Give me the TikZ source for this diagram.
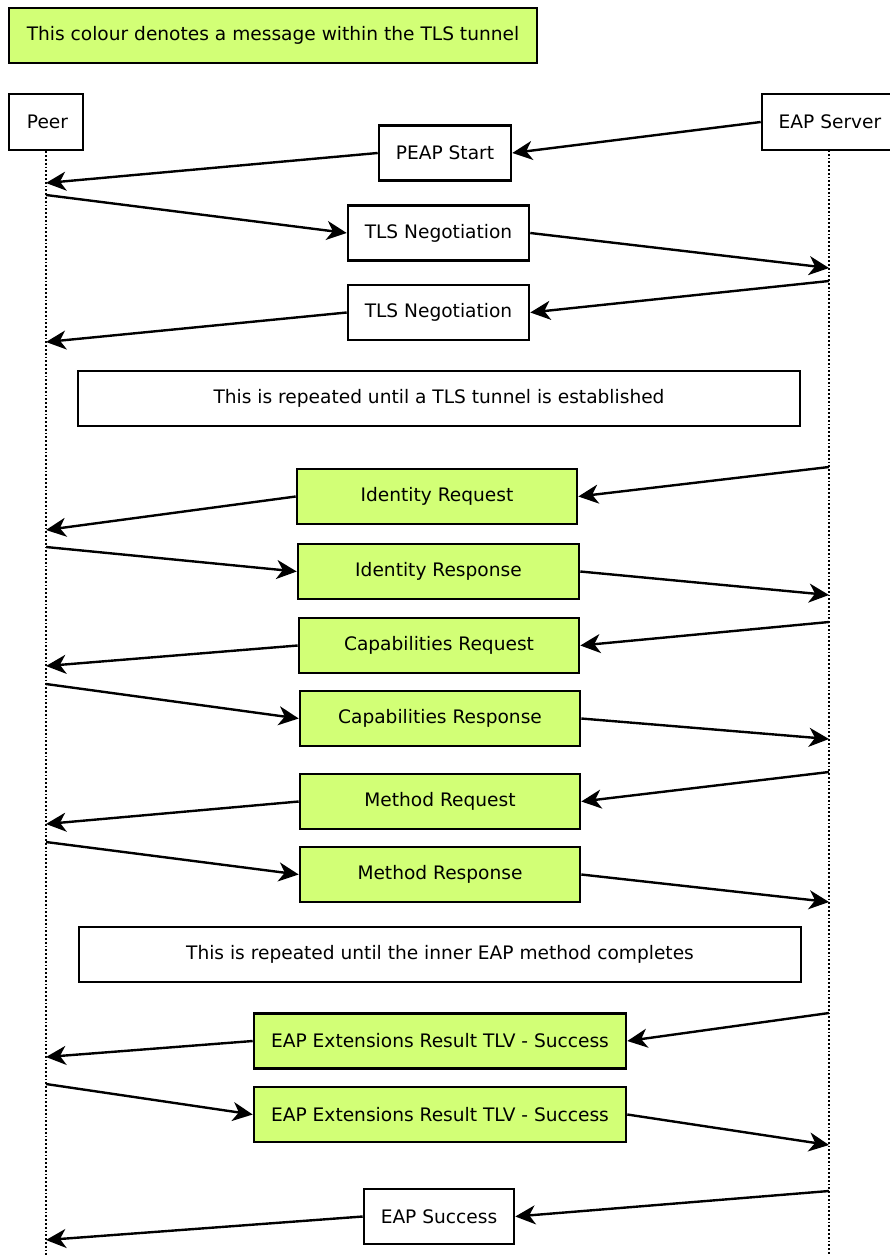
\documentclass[tikz,border=0pt]{standalone}
\usepackage{fontspec}
\setmainfont{DejaVu Sans}
\usetikzlibrary{arrows.meta}
\definecolor{tunnel}{RGB}{210,255,118}
\tikzset{
  msg/.style={draw, line width=2.6pt, rectangle, inner sep=0pt, minimum height=55pt, font=\fontsize{18.6}{21}\selectfont},
  inner/.style={msg, fill=tunnel},
  actor/.style={msg, minimum height=56pt},
  lifeline/.style={line width=1.8pt, dotted},
  flow/.style={line width=2.4pt, -{Stealth[length=20pt,width=19pt,inset=6pt]}}
}
\begin{document}
\begin{tikzpicture}[x=1pt,y=-1pt]
\useasboundingbox (0,0) rectangle (889,1255);

% legend
\node[inner, minimum width=528pt] (legend) at (273,35.5) {This colour denotes a message within the TLS tunnel};

% actors and lifelines
\node[actor, minimum width=74pt] (peer) at (46,122) {\hspace{3pt}Peer};
\node[actor, minimum width=136pt] (srv) at (830,122) {EAP Server};
\coordinate (peerend) at (46,1255);
\coordinate (srvtop) at (829,150);
\coordinate (srvend) at (829,1255);
\draw[lifeline] (peer.south) -- (peerend);
\draw[lifeline] (srvtop) -- (srvend);

% messages
\node[msg, minimum width=132pt] (peap) at (445,153) {PEAP Start};
\node[msg, minimum width=181pt] (tls1) at (438.5,233) {TLS Negotiation};
\node[msg, minimum width=181pt] (tls2) at (438.5,312.5) {TLS Negotiation};
\node[msg, minimum width=722pt] (rep1) at (439,398.5) {This is repeated until a TLS tunnel is established};
\node[inner, minimum width=280pt] (idreq) at (437,496.5) {Identity Request};
\node[inner, minimum width=281pt] (idresp) at (438.5,571.5) {Identity Response};
\node[inner, minimum width=280pt] (capreq) at (439,645.5) {Capabilities Request};
\node[inner, minimum width=280pt] (capresp) at (440,718.5) {Capabilities Response};
\node[inner, minimum width=280pt] (mreq) at (440,801.5) {Method Request};
\node[inner, minimum width=280pt] (mresp) at (440,874.5) {Method Response};
\node[msg, minimum width=722pt] (rep2) at (440,954.5) {This is repeated until the inner EAP method completes};
\node[inner, minimum width=372pt] (ext1) at (440,1041) {EAP Extensions Result TLV - Success};
\node[inner, minimum width=372pt] (ext2) at (440,1114.5) {EAP Extensions Result TLV - Success};
\node[msg, minimum width=150pt] (succ) at (439,1216.5) {EAP Success};

% lifeline end points
\coordinate (p1) at (46,183);
\coordinate (p2) at (46,195);
\coordinate (s2) at (829,268);
\coordinate (s3) at (829,281);
\coordinate (p3) at (46,342);
\coordinate (s4) at (829,467);
\coordinate (p4) at (46,530);
\coordinate (p5) at (46,547);
\coordinate (s5) at (829,595);
\coordinate (s6) at (829,622);
\coordinate (p6) at (46,666);
\coordinate (p7) at (46,684);
\coordinate (s7) at (829,739);
\coordinate (s8) at (829,772);
\coordinate (p8) at (46,824);
\coordinate (p9) at (46,842);
\coordinate (s9) at (829,902);
\coordinate (s10) at (829,1013);
\coordinate (p10) at (46,1057);
\coordinate (p11) at (46,1084);
\coordinate (s11) at (829,1145);
\coordinate (s12) at (829,1191);
\coordinate (p12) at (46,1240);

% connectors
\draw[flow] (srv.west) -- (peap.east);
\draw[flow] (peap.west) -- (p1);
\draw[flow] (p2) -- (tls1.west);
\draw[flow] (tls1.east) -- (s2);
\draw[flow] (s3) -- (tls2.east);
\draw[flow] (tls2.west) -- (p3);
\draw[flow] (s4) -- (idreq.east);
\draw[flow] (idreq.west) -- (p4);
\draw[flow] (p5) -- (idresp.west);
\draw[flow] (idresp.east) -- (s5);
\draw[flow] (s6) -- (capreq.east);
\draw[flow] (capreq.west) -- (p6);
\draw[flow] (p7) -- (capresp.west);
\draw[flow] (capresp.east) -- (s7);
\draw[flow] (s8) -- (mreq.east);
\draw[flow] (mreq.west) -- (p8);
\draw[flow] (p9) -- (mresp.west);
\draw[flow] (mresp.east) -- (s9);
\draw[flow] (s10) -- (ext1.east);
\draw[flow] (ext1.west) -- (p10);
\draw[flow] (p11) -- (ext2.west);
\draw[flow] (ext2.east) -- (s11);
\draw[flow] (s12) -- (succ.east);
\draw[flow] (succ.west) -- (p12);
\end{tikzpicture}
\end{document}
